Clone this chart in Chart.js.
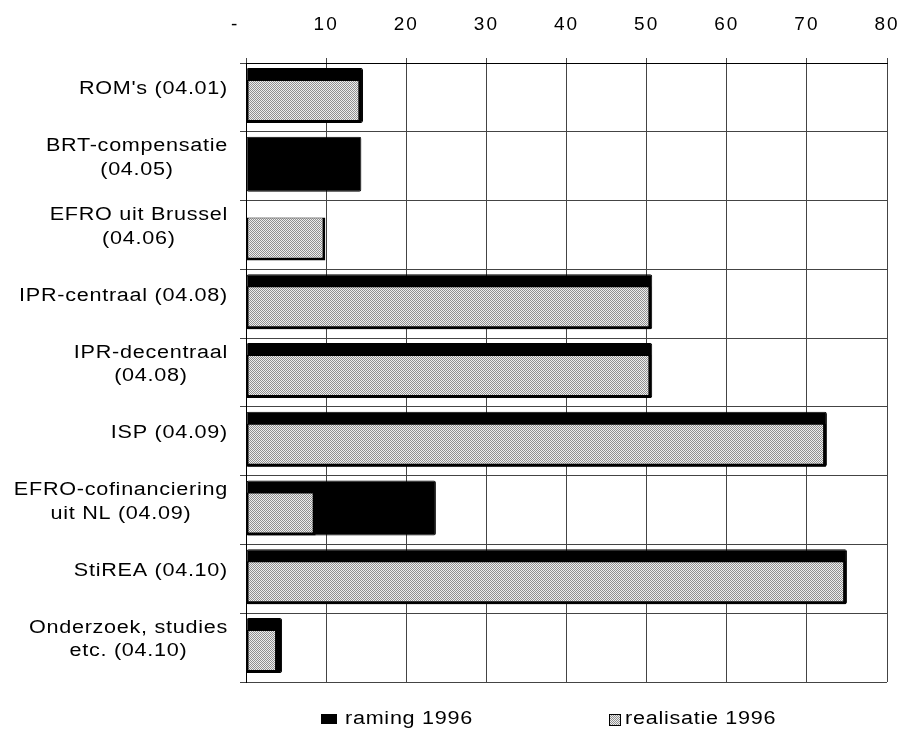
<!DOCTYPE html>
<html>
<head>
<meta charset="utf-8">
<script src="https://cdn.jsdelivr.net/npm/chart.js@4.4.1/dist/chart.umd.min.js"></script>
<style>
body { margin: 0; background: #fff; }
#wrap { width: 903px; height: 729px; }
</style>
</head>
<body>
<div id="wrap"><canvas id="barChart" width="903" height="729"></canvas></div>
<script>
// categories, one array of lines per label
var categories = [
	["ROM's (04.01)"],
	["BRT-compensatie", "(04.05)"],
	["EFRO uit Brussel", "(04.06)"],
	["IPR-centraal (04.08)"],
	["IPR-decentraal", "(04.08)"],
	["ISP (04.09)"],
	["EFRO-cofinanciering", "uit NL (04.09)"],
	["StiREA (04.10)"],
	["Onderzoek, studies", "etc. (04.10)"]
];
var raming = [14.6, 14.4, null, 50.7, 50.7, 72.5, 23.7, 75.0, 4.5];
var realisatie = [14.4, null, 9.9, 50.6, 50.6, 72.4, 8.7, 74.9, 4.0];
var xTicks = [0, 10, 20, 30, 40, 50, 60, 70, 80];
var legendLabels = ["raming 1996", "realisatie 1996"];

var FONT = '"Liberation Sans", Arial, sans-serif';
var SX = 1.2;   // horizontal stretch of the scanned text
var LH = 23.5;  // line height of category labels

var canvas = document.getElementById('barChart');
var ctx = canvas.getContext('2d');

// stippled grey fill
var pc = document.createElement('canvas');
pc.width = 2; pc.height = 2;
var pctx = pc.getContext('2d');
pctx.fillStyle = '#eeeeee';
pctx.fillRect(0, 0, 2, 2);
pctx.fillStyle = '#909090';
pctx.fillRect(0, 0, 1, 1);
pctx.fillRect(1, 1, 1, 1);
var stipple = ctx.createPattern(pc, 'repeat');

// shift bars inside the band: black one up a little, grey one down so bottoms meet
var shiftPlugin = {
	id: 'barShift',
	afterDatasetsUpdate: function (chart) {
		chart.data.datasets.forEach(function (ds, i) {
			chart.getDatasetMeta(i).data.forEach(function (el) { el.y += ds.shift; });
		});
	}
};

var spacingPlugin = {
	id: 'spacing',
	beforeDraw: function (chart) { chart.ctx.letterSpacing = '2px'; }
};

// category labels: lines centred on each other, block right aligned
var labelPlugin = {
	id: 'catLabels',
	afterDraw: function (chart) {
		var c = chart.ctx;
		var yScale = chart.scales.y;
		var area = chart.chartArea;
		var right = area.left - 18;
		c.save();
		c.font = '18px ' + FONT;
		c.letterSpacing = '0.6px';
		c.fillStyle = '#000';
		c.textBaseline = 'middle';
		c.textAlign = 'center';
		categories.forEach(function (lines, i) {
			var w = Math.max.apply(null, lines.map(function (l) { return c.measureText(l).width; })) * SX;
			var cx = right - w / 2;
			var cy = yScale.getPixelForValue(i) - 8 - (lines.length - 1) * LH / 2;
			lines.forEach(function (l, j) {
				c.save();
				c.translate(cx, cy + j * LH);
				c.scale(SX, 1);
				c.fillText(l, 0, 0);
				c.restore();
			});
		});

		// legend
		var ly = area.bottom + 37;
		c.textAlign = 'left';
		c.fillStyle = '#000';
		c.fillRect(area.left + 75, ly - 5, 16, 10);
		c.fillStyle = stipple;
		c.fillRect(area.left + 363, ly - 5, 12, 12);
		c.strokeStyle = '#000';
		c.lineWidth = 1;
		c.strokeRect(area.left + 363.5, ly - 4.5, 11, 11);
		c.fillStyle = '#000';
		[[legendLabels[0], area.left + 99], [legendLabels[1], area.left + 379]].forEach(function (it) {
			c.save();
			c.translate(it[1], ly);
			c.scale(SX, 1);
			c.fillText(it[0], 0, 0);
			c.restore();
		});
		c.restore();
	}
};

new Chart(ctx, {
	type: 'bar',
	data: {
		labels: categories,
		datasets: [{
			label: legendLabels[0],
			data: raming,
			backgroundColor: '#000',
			borderColor: '#000',
			borderWidth: 1,
			borderRadius: 2,
			borderSkipped: false,
			grouped: false,
			categoryPercentage: 1,
			barPercentage: 0.8,
			order: 2,
			shift: -2
		}, {
			label: legendLabels[1],
			data: realisatie,
			backgroundColor: stipple,
			borderColor: '#000',
			borderWidth: { top: 1, left: 2, right: 3, bottom: 3 },
			borderSkipped: false,
			grouped: false,
			categoryPercentage: 1,
			barPercentage: 0.625,
			order: 1,
			shift: 4
		}]
	},
	options: {
		indexAxis: 'y',
		responsive: false,
		animation: false,
		layout: {
			padding: { top: 0, right: 16, bottom: 47, left: 0 }
		},
		scales: {
			x: {
				position: 'top',
				min: xTicks[0],
				max: xTicks[xTicks.length - 1],
				afterBuildTicks: function (scale) {
					scale.ticks = xTicks.map(function (v) { return { value: v }; });
				},
				afterFit: function (scale) { scale.height = 63; },
				ticks: {
					padding: 0,
					color: '#000',
					font: { family: FONT, size: 19, lineHeight: '66px' },
					callback: function (v) { return v === 0 ? '-   ' : v; }
				},
				grid: { color: '#444', lineWidth: 1, tickLength: 5 },
				border: { color: '#000', width: 1 }
			},
			y: {
				offset: true,
				afterFit: function (scale) { scale.width = 246; },
				ticks: { display: false },
				grid: { offset: true, color: '#444', lineWidth: 1, tickLength: 6 },
				border: { color: '#000', width: 1 }
			}
		},
		plugins: {
			legend: { display: false },
			tooltip: { enabled: false }
		}
	},
	plugins: [shiftPlugin, spacingPlugin, labelPlugin]
});
</script>
</body>
</html>
